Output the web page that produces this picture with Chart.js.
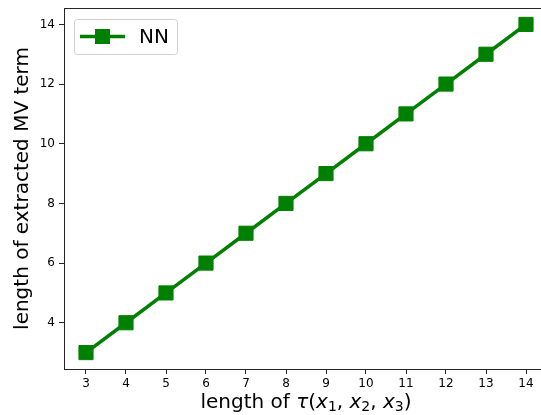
<!DOCTYPE html>
<html>
<head>
<meta charset="utf-8">
<script src="https://cdn.jsdelivr.net/npm/chart.js@4.4.0/dist/chart.umd.min.js"></script>
<style>
  html, body { margin: 0; padding: 0; background: #fff; overflow: hidden; }
  #wrap { width: 541px; height: 415px; overflow: hidden; }
</style>
</head>
<body>
<div id="wrap"><canvas id="c" width="560" height="415"></canvas></div>
<script>
  // data
  const tauLengths = [3, 4, 5, 6, 7, 8, 9, 10, 11, 12, 13, 14];
  const mvLengths  = [3, 4, 5, 6, 7, 8, 9, 10, 11, 12, 13, 14];
  const xTicks = [3, 4, 5, 6, 7, 8, 9, 10, 11, 12, 13, 14];
  const yTicks = [4, 6, 8, 10, 12, 14];
  const seriesName = 'NN';
  const yTitle = 'length of extracted MV term';
  // x title in pieces: [text, italic, subscript]
  const xTitleParts = [
    ['length of ', false, false], ['τ', true, false], ['(', false, false],
    ['x', true, false], ['1', false, true], [', ', false, false],
    ['x', true, false], ['2', false, true], [', ', false, false],
    ['x', true, false], ['3', false, true], [')', false, false]
  ];

  const green = '#008000';
  const axisCol = '#262626';
  const FONT = '"DejaVu Sans"';

  // box round the plot, like the matplotlib spines
  const frame = {
    id: 'frame',
    afterDraw(chart){
      const a = chart.chartArea, ctx = chart.ctx;
      ctx.save();
      ctx.strokeStyle = axisCol;
      ctx.lineWidth = 1;
      ctx.strokeRect(a.left + 0.5, a.top + 0.5, a.right - a.left, a.bottom - a.top);
      ctx.restore();
    }
  };

  // axis titles (x one has math italics and subscripts)
  const titles = {
    id: 'titles',
    afterDraw(chart){
      const a = chart.chartArea, ctx = chart.ctx;
      ctx.save();
      ctx.fillStyle = '#000';
      ctx.textBaseline = 'alphabetic';

      // y title, rotated
      ctx.font = '20px ' + FONT;
      ctx.translate(28, (a.top + a.bottom) / 2);
      ctx.rotate(-Math.PI / 2);
      ctx.textAlign = 'center';
      ctx.fillText(yTitle, 0, 0);
      ctx.setTransform(1, 0, 0, 1, 0, 0);

      // x title
      ctx.textAlign = 'left';
      const fontOf = p => (p[1] ? 'italic ' : '') + (p[2] ? '14px ' : '20px ') + FONT;
      let total = 0;
      xTitleParts.forEach(p => { ctx.font = fontOf(p); total += ctx.measureText(p[0]).width; });
      let x = (a.left + a.right) / 2 - total / 2;
      const base = 408;
      xTitleParts.forEach(p => {
        ctx.font = fontOf(p);
        ctx.fillText(p[0], x, p[2] ? base + 3 : base);
        x += ctx.measureText(p[0]).width;
      });
      ctx.restore();
    }
  };

  // legend with line + square marker
  const lineLegend = {
    id: 'lineLegend',
    afterDraw(chart){
      const ctx = chart.ctx;
      const x = 74, y = 19, w = 103, h = 35, r = 3;
      ctx.save();
      ctx.beginPath();
      ctx.roundRect(x + 0.5, y + 0.5, w, h, r);
      ctx.fillStyle = 'rgba(255,255,255,0.8)';
      ctx.fill();
      ctx.strokeStyle = '#d0d0d0';
      ctx.lineWidth = 1;
      ctx.stroke();

      const cy = y + h / 2;
      ctx.strokeStyle = green;
      ctx.lineWidth = 3.5;
      ctx.beginPath();
      ctx.moveTo(80, cy);
      ctx.lineTo(125, cy);
      ctx.stroke();
      ctx.fillStyle = green;
      ctx.fillRect(95, cy - 7.5, 15, 15);

      ctx.fillStyle = '#000';
      ctx.font = '20px ' + FONT;
      ctx.textBaseline = 'middle';
      ctx.fillText(seriesName, 139, cy + 1);
      ctx.restore();
    }
  };

  const pts = tauLengths.map((v, i) => ({ x: v, y: mvLengths[i] }));

  new Chart(document.getElementById('c'), {
    type: 'line',
    data: {
      datasets: [{
        label: seriesName,
        data: pts,
        borderColor: green,
        backgroundColor: green,
        borderWidth: 3.5,
        pointStyle: 'rect',
        pointRadius: 10,
        pointBorderWidth: 1,
        pointBorderColor: green,
        pointBackgroundColor: green,
        tension: 0,
        clip: false
      }]
    },
    options: {
      responsive: false,
      animation: false,
      layout: { autoPadding: false, padding: { top: 8, right: 12, left: 0, bottom: 0 } },
      plugins: { legend: { display: false }, tooltip: { enabled: false } },
      scales: {
        x: {
          type: 'linear',
          min: 2.45, max: 14.55,
          afterBuildTicks: s => { s.ticks = xTicks.map(v => ({ value: v })); },
          afterFit: s => { s.height = 46; s.paddingLeft = 0; s.paddingRight = 0; },
          grid: { drawOnChartArea: false, drawTicks: true, tickLength: 5, tickColor: axisCol },
          border: { display: true, color: axisCol },
          ticks: { color: '#000', font: { family: 'DejaVu Sans', size: 12 }, padding: 3, maxRotation: 0 }
        },
        y: {
          type: 'linear',
          min: 2.45, max: 14.55,
          afterBuildTicks: s => { s.ticks = yTicks.map(v => ({ value: v })); },
          afterFit: s => { s.width = 64; s.paddingTop = 0; s.paddingBottom = 0; },
          grid: { drawOnChartArea: false, drawTicks: true, tickLength: 5, tickColor: axisCol },
          border: { display: true, color: axisCol },
          ticks: { color: '#000', font: { family: 'DejaVu Sans', size: 12 }, padding: 4 }
        }
      }
    },
    plugins: [frame, titles, lineLegend]
  });
</script>
</body>
</html>
